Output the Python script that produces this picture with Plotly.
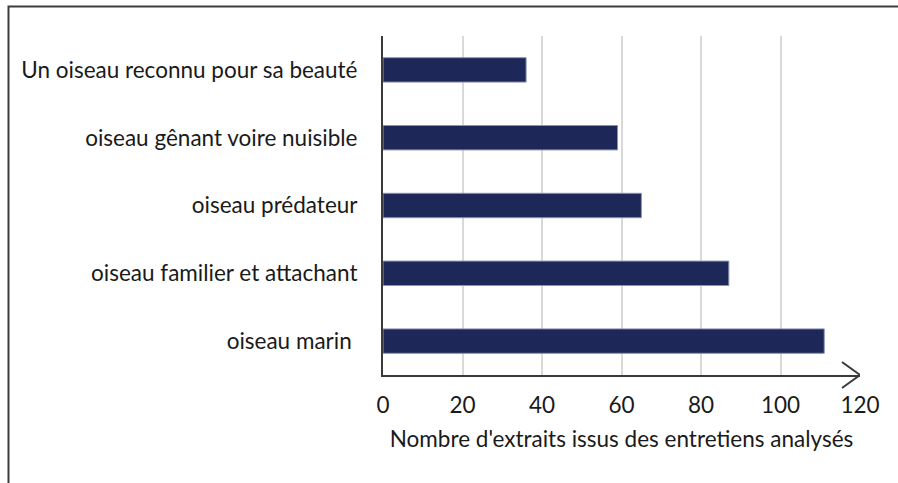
import plotly.graph_objects as go

# Perceptions of the bird, listed from bottom to top of the chart
categories = [
    "oiseau marin ",
    "oiseau familier et attachant",
    "oiseau prédateur",
    "oiseau gênant voire nuisible",
    "Un oiseau reconnu pour sa beauté",
]
counts = [111, 87, 65, 59, 36]
x_ticks = [0, 20, 40, 60, 80, 100, 120]

FONT = "Lato, 'Open Sans', sans-serif"
BAR = "#1d2858"
AXIS = "#3a3a3a"
TEXT = "#1a1a1a"
SIZE = 22.5

fig = go.Figure(
    go.Bar(
        x=counts,
        y=categories,
        orientation="h",
        marker=dict(color=BAR, line=dict(color="#8a91b3", width=1)),
        width=0.36,
        hoverinfo="x+y",
    )
)

W, H = 898, 483
L, R, T, B = 383, 38, 36, 108

fig.update_layout(
    width=W,
    height=H,
    margin=dict(l=L, r=R, t=T, b=B),
    paper_bgcolor="white",
    plot_bgcolor="white",
    showlegend=False,
    font=dict(family=FONT, size=SIZE, color=TEXT),
    xaxis=dict(
        range=[0, 120],
        tickvals=x_ticks,
        showgrid=True,
        gridcolor="#d9d9d9",
        gridwidth=1.5,
        zeroline=False,
        showline=True,
        linecolor=AXIS,
        linewidth=1.5,
        ticks="",
        ticklabelstandoff=9,
        title=dict(text="Nombre d'extraits issus des entretiens analysés", standoff=14,
                   font=dict(family=FONT, size=SIZE, color=TEXT)),
    ),
    yaxis=dict(
        range=[-0.5, 4.5],
        showgrid=False,
        zeroline=False,
        showline=True,
        linecolor=AXIS,
        linewidth=2,
        ticks="",
        ticklabelstandoff=19,
    ),
)

# open arrowhead at the end of the value axis
for dy in (13, -13):
    fig.add_shape(
        type="line",
        xref="x", yref="paper",
        xsizemode="pixel", ysizemode="pixel",
        xanchor=120, yanchor=0,
        x0=0, y0=0, x1=-18, y1=dy,
        line=dict(color=AXIS, width=2),
    )

# outer frame (top and left edges visible, the rest runs off the page)
pw, ph = W - L - R, H - T - B
fig.add_shape(
    type="rect",
    xref="paper", yref="paper",
    x0=(8.5 - L) / pw, x1=(W + 5 - L) / pw,
    y0=-(B + 5) / ph, y1=(H - B - 6.5) / ph,
    line=dict(color="#3c3c3c", width=2),
    fillcolor="rgba(0,0,0,0)",
    layer="below",
)

fig.write_html("out.html")
